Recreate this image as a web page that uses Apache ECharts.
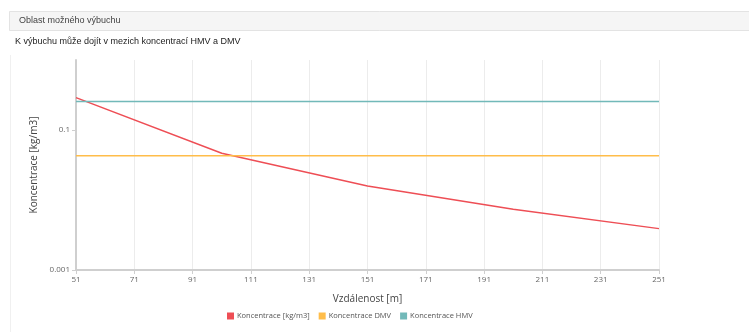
<!DOCTYPE html>
<html>
<head>
<meta charset="utf-8">
<script src="https://cdn.jsdelivr.net/npm/echarts@6/dist/echarts.min.js"></script>
<style>
  html, body { margin: 0; padding: 0; background: #fff; }
  #chart { width: 749px; height: 332px; }
</style>
</head>
<body>
<div id="chart"></div>
<script>
// Distance from the source [m] and the concentration along it [kg/m3]
const distances = [51, 101, 151, 201, 251];
const concentration = [0.29, 0.0465, 0.0158, 0.0074, 0.0039];

// Lower and upper explosive limits [kg/m3]
const dmvLimit = 0.043;
const hmvLimit = 0.255;
const limitRange = [51, 251];

// Axis labels
const xTickValues = [51, 71, 91, 111, 131, 151, 171, 191, 211, 231, 251];
const yTickValues = [0.001, 0.1];

const panelTitle = 'Oblast možného výbuchu';
const panelNote = 'K výbuchu může dojít v mezich koncentrací HMV a DMV';
const seriesNames = ['Koncentrace [kg/m3]', 'Koncentrace DMV', 'Koncentrace HMV'];
const seriesColors = ['#ee4e55', '#ffbd4a', '#72b9b9'];

const font = '"Open Sans", "Noto Sans", sans-serif';

const chart = echarts.init(document.getElementById('chart'), null, { renderer: 'canvas' });

chart.setOption({
  animation: false,
  textStyle: { fontFamily: font },
  color: seriesColors,
  graphic: [
    { type: 'rect', shape: { x: 9.5, y: 11.5, width: 745, height: 19 },
      style: { fill: '#f5f5f5', stroke: '#e3e3e3', lineWidth: 1 } },
    { type: 'text', left: 19, top: 16,
      style: { text: panelTitle, font: '9px "Liberation Sans", Arial, sans-serif', fill: '#444' } },
    { type: 'text', left: 15, top: 37,
      style: { text: panelNote, font: '9px "Liberation Sans", Arial, sans-serif', fill: '#222' } },
    { type: 'line', shape: { x1: 10.5, y1: 55, x2: 10.5, y2: 332 },
      style: { stroke: '#f0f0f0', lineWidth: 1 } }
  ],
  grid: { left: 76, right: 90, top: 60, bottom: 62, containLabel: false },
  legend: {
    bottom: 7,
    left: 222,
    itemWidth: 7,
    itemHeight: 7,
    itemGap: 9,
    icon: 'rect',
    textStyle: { fontSize: 7.5, color: '#555', fontFamily: font, padding: [0, 0, 0, -2] },
    data: seriesNames
  },
  xAxis: {
    type: 'value',
    min: 51,
    max: 251,
    name: 'Vzdálenost [m]',
    nameLocation: 'middle',
    nameGap: 24,
    nameTextStyle: { fontSize: 10, color: '#444' },
    axisLine: { lineStyle: { color: '#cfcfcf', width: 2 } },
    axisTick: { show: true, customValues: xTickValues, length: 4, lineStyle: { color: '#cfcfcf' } },
    axisLabel: { customValues: xTickValues, fontSize: 8, color: '#666', margin: 6 },
    splitLine: { show: true, lineStyle: { color: '#ececec', width: 1 } }
  },
  yAxis: {
    type: 'log',
    logBase: 10,
    min: 0.001,
    max: 1,
    name: 'Koncentrace [kg/m3]',
    nameLocation: 'middle',
    nameGap: 36,
    nameTextStyle: { fontSize: 10, color: '#444' },
    axisLine: { show: true, lineStyle: { color: '#cfcfcf', width: 2 } },
    axisTick: { show: true, customValues: yTickValues, length: 4, lineStyle: { color: '#cfcfcf' } },
    axisLabel: {
      customValues: yTickValues,
      fontSize: 8,
      color: '#666',
      margin: 6,
      formatter: v => String(v)
    },
    splitLine: { show: true, lineStyle: { color: ['#ececec', 'rgba(0,0,0,0)', '#ececec', '#ececec'], width: 1 } }
  },
  series: [
    {
      name: seriesNames[0],
      type: 'line',
      symbol: 'none',
      lineStyle: { width: 1.5 },
      data: distances.map((d, i) => [d, concentration[i]])
    },
    {
      name: seriesNames[1],
      type: 'line',
      symbol: 'none',
      lineStyle: { width: 1.5 },
      data: limitRange.map(d => [d, dmvLimit])
    },
    {
      name: seriesNames[2],
      type: 'line',
      symbol: 'none',
      lineStyle: { width: 1.5 },
      data: limitRange.map(d => [d, hmvLimit])
    }
  ]
});
</script>
</body>
</html>
